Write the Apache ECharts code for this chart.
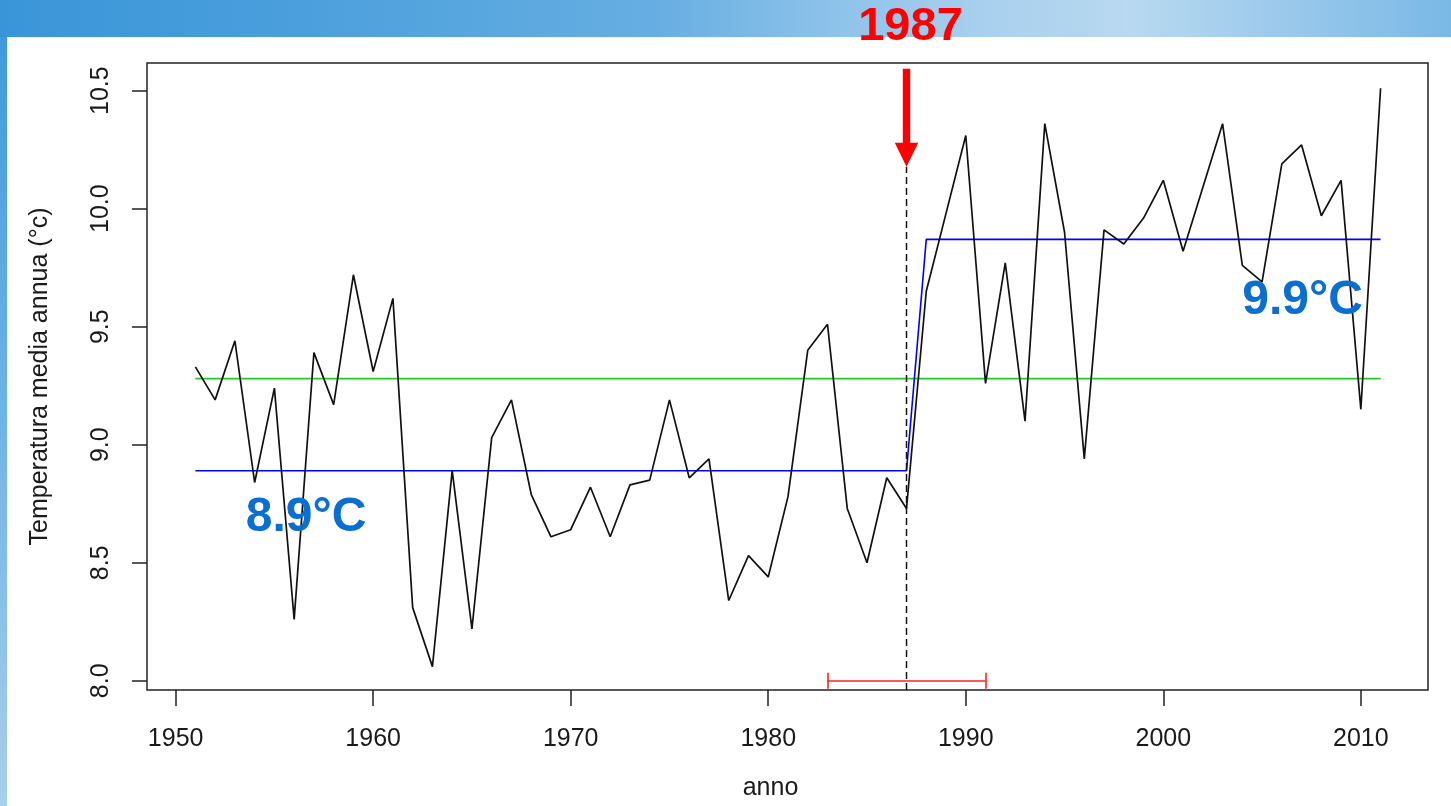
<!DOCTYPE html>
<html>
<head>
<meta charset="utf-8">
<title>Temperatura media annua</title>
<script src="https://cdn.jsdelivr.net/npm/echarts@6/dist/echarts.min.js"></script>
<style>
  html, body { margin: 0; padding: 0; background: #fff; }
  #chart { width: 1451px; height: 806px; }
</style>
</head>
<body>
<div id="chart"></div>
<script>
// Annual mean temperature series
const years = [1951, 1952, 1953, 1954, 1955, 1956, 1957, 1958, 1959, 1960,
  1961, 1962, 1963, 1964, 1965, 1966, 1967, 1968, 1969, 1970,
  1971, 1972, 1973, 1974, 1975, 1976, 1977, 1978, 1979, 1980,
  1981, 1982, 1983, 1984, 1985, 1986, 1987, 1988, 1989, 1990,
  1991, 1992, 1993, 1994, 1995, 1996, 1997, 1998, 1999, 2000,
  2001, 2002, 2003, 2004, 2005, 2006, 2007, 2008, 2009, 2010, 2011];
const temps = [9.33, 9.19, 9.44, 8.84, 9.24, 8.26, 9.39, 9.17, 9.72, 9.31,
  9.62, 8.31, 8.06, 8.89, 8.22, 9.03, 9.19, 8.79, 8.61, 8.64,
  8.82, 8.61, 8.83, 8.85, 9.19, 8.86, 8.94, 8.34, 8.53, 8.44,
  8.78, 9.40, 9.51, 8.73, 8.50, 8.86, 8.73, 9.65, 9.98, 10.31,
  9.26, 9.77, 9.10, 10.36, 9.90, 8.94, 9.91, 9.85, 9.96, 10.12,
  9.82, 10.09, 10.36, 9.76, 9.69, 10.19, 10.27, 9.97, 10.12, 9.15, 10.51];

// Change point, its confidence interval and the segment means
const changeYear = 1987;
const changeInterval = [1983, 1991];
const intervalLevel = 8.0;
const segmentMeans = [8.89, 9.87];
const overallMean = 9.28;

// Axis ticks
const xTicks = [1950, 1960, 1970, 1980, 1990, 2000, 2010];
const yTicks = [8.0, 8.5, 9.0, 9.5, 10.0, 10.5];

const X_MIN = 1948.55, X_MAX = 2013.4;
const Y_MIN = 7.961, Y_MAX = 10.617;
const ARROW_TIP = 10.178;

const firstYear = years[0], lastYear = years[years.length - 1];
const tempData = years.map((y, i) => [y, temps[i]]);
const stepData = [
  [firstYear, segmentMeans[0]], [changeYear, segmentMeans[0]],
  [changeYear + 1, segmentMeans[1]], [lastYear, segmentMeans[1]]
];
const meanData = [[firstYear, overallMean], [lastYear, overallMean]];

// where the two mean labels sit (year along x, pixels below the line)
const meanLabelPlacement = [{ year: 1956.6, dy: 47 }, { year: 2007.05, dy: 61 }];

const FONT = '"Liberation Sans", Arial, sans-serif';
const TXT = '#1a1a1a';
const W = 1451, H = 806;

const chart = echarts.init(document.getElementById('chart'), null, { renderer: 'canvas' });

chart.setOption({
  animation: false,
  backgroundColor: '#ffffff',
  graphic: [
    {
      type: 'rect', z: -20, silent: true,
      shape: { x: 0, y: 0, width: W, height: H },
      style: {
        fill: new echarts.graphic.LinearGradient(0, 0, 1, 0, [
          { offset: 0, color: '#3a95d8' },
          { offset: 0.2, color: '#4a9fdc' },
          { offset: 0.45, color: '#66aee2' },
          { offset: 0.58, color: '#8fc3ea' },
          { offset: 0.68, color: '#a9d0ee' },
          { offset: 0.78, color: '#b8d9f0' },
          { offset: 0.88, color: '#9ccaec' },
          { offset: 1, color: '#7ab8e6' }
        ])
      }
    },
    {
      type: 'rect', z: -19, silent: true,
      shape: { x: 0, y: 37, width: 7, height: H - 37 },
      style: {
        fill: new echarts.graphic.LinearGradient(0, 0, 0, 1, [
          { offset: 0, color: '#3f9ade' },
          { offset: 0.5, color: '#6fb4e6' },
          { offset: 1, color: '#a8cfeb' }
        ])
      }
    },
    {
      type: 'rect', z: -18, silent: true,
      shape: { x: 7, y: 37, width: W - 7, height: H - 37 },
      style: { fill: '#ffffff' }
    }
  ],
  grid: {
    left: 147, right: 23, top: 63, bottom: 116,
    show: true, borderColor: '#222', borderWidth: 1.5, backgroundColor: '#ffffff'
  },
  xAxis: {
    type: 'value', min: X_MIN, max: X_MAX,
    name: 'anno', nameLocation: 'middle', nameGap: 86,
    nameTextStyle: { fontFamily: FONT, fontSize: 25, color: TXT, padding: [0, 34, 0, 0] },
    axisLine: { show: false },
    splitLine: { show: false },
    axisTick: { show: true, inside: false, length: 16, customValues: xTicks,
      lineStyle: { color: '#222', width: 1.5 } },
    axisLabel: { customValues: xTicks, fontFamily: FONT, fontSize: 25, color: TXT,
      margin: 37, formatter: v => String(v) }
  },
  yAxis: {
    type: 'value', min: Y_MIN, max: Y_MAX,
    name: 'Temperatura media annua (°c)', nameLocation: 'middle', nameGap: 94,
    nameTextStyle: { fontFamily: FONT, fontSize: 25, color: TXT },
    axisLine: { show: false },
    splitLine: { show: false },
    axisTick: { show: true, inside: false, length: 15, customValues: yTicks,
      lineStyle: { color: '#222', width: 1.5 } },
    axisLabel: { customValues: yTicks, rotate: 90, fontFamily: FONT, fontSize: 25,
      color: TXT, margin: 33, formatter: v => v.toFixed(1) }
  },
  series: [
    {
      name: 'media complessiva', type: 'line', data: meanData, symbol: 'none',
      lineStyle: { color: '#1fcc1f', width: 1.6 }, z: 2, silent: true
    },
    {
      name: 'medie per periodo', type: 'line', data: stepData, symbol: 'none',
      lineStyle: { color: '#0000ff', width: 1.6 }, z: 3, silent: true
    },
    {
      name: 'cambio', type: 'line', symbol: 'none', silent: true, z: 3,
      data: [[changeYear, Y_MIN], [changeYear, ARROW_TIP]],
      lineStyle: { color: '#111', width: 1.5, type: [7, 4] }
    },
    {
      name: 'temperatura', type: 'line', data: tempData, symbol: 'none',
      lineStyle: { color: '#111', width: 1.7 }, z: 4, silent: true
    },
    {
      name: 'intervallo', type: 'lines', coordinateSystem: 'cartesian2d', silent: true, z: 4,
      lineStyle: { color: '#ff2020', width: 1.6, opacity: 1 },
      data: [
        { coords: [[changeInterval[0], intervalLevel], [changeInterval[1], intervalLevel]] },
        { coords: [[changeInterval[0], intervalLevel - 0.034], [changeInterval[0], intervalLevel + 0.034]] },
        { coords: [[changeInterval[1], intervalLevel - 0.034], [changeInterval[1], intervalLevel + 0.034]] }
      ]
    },
    {
      // red arrow and year above the change point
      name: 'freccia', type: 'custom', coordinateSystem: 'cartesian2d', clip: false, z: 10, silent: true,
      data: [[changeYear, ARROW_TIP]],
      renderItem: (params, api) => {
        const p = api.coord([api.value(0), api.value(1)]);
        const x = p[0], y = p[1];
        return {
          type: 'group',
          children: [
            {
              type: 'polygon',
              shape: { points: [
                [x - 3.7, y - 98], [x + 3.7, y - 98], [x + 3.7, y - 24], [x + 11.7, y - 24],
                [x, y], [x - 11.7, y - 24], [x - 3.7, y - 24]
              ] },
              style: { fill: '#ff0000' }
            },
            {
              type: 'text', x: x + 4, y: y - 140,
              style: {
                text: String(api.value(0)), fill: '#ff0000',
                font: 'bold 47px ' + FONT, align: 'center', verticalAlign: 'middle'
              }
            }
          ]
        };
      }
    },
    {
      // mean values written under the blue segments
      name: 'etichette', type: 'custom', coordinateSystem: 'cartesian2d', clip: false, z: 10, silent: true,
      data: segmentMeans.map((m, i) => [meanLabelPlacement[i].year, m]),
      renderItem: (params, api) => {
        const p = api.coord([api.value(0), api.value(1)]);
        const dy = meanLabelPlacement[params.dataIndex].dy;
        return {
          type: 'text', x: p[0], y: p[1] + dy,
          style: {
            text: api.value(1).toFixed(1) + '°C', fill: '#0a6fd0',
            font: 'bold 48px ' + FONT, align: 'center', verticalAlign: 'middle'
          }
        };
      }
    }
  ]
});
</script>
</body>
</html>
